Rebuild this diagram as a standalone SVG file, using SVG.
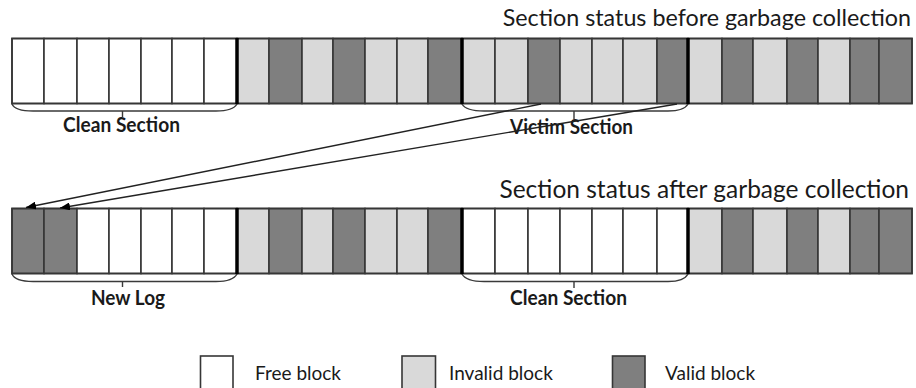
<svg xmlns="http://www.w3.org/2000/svg" width="916" height="388" viewBox="0 0 916 388">
  <defs>
    <style>
      .free { fill: #ffffff; stroke: #363636; stroke-width: 1.6; }
      .inv  { fill: #d9d9d9; stroke: #363636; stroke-width: 1.6; }
      .val  { fill: #7f7f7f; stroke: #363636; stroke-width: 1.6; }
      .sep  { stroke: #000000; stroke-width: 3.5; }
      .outline { fill: none; stroke: #363636; stroke-width: 1.6; }
      .brace { fill: none; stroke: #3a3a3a; stroke-width: 1.4; }
      .title { font-family: Lato, "Open Sans", sans-serif; font-size: 24.5px; fill: #1a1a1a; text-anchor: end; }
      .label { font-family: Lato, "Open Sans", sans-serif; font-size: 20px; font-weight: bold; fill: #1a1a1a; }
      .legend { font-family: Lato, "Open Sans", sans-serif; font-size: 19px; fill: #1a1a1a; }
      .move { fill: none; stroke: #222222; stroke-width: 1.4; marker-end: url(#head); }
    </style>
    <marker id="head" markerUnits="userSpaceOnUse" markerWidth="10" markerHeight="8" refX="10" refY="4" orient="auto">
      <path d="M0,0 L10,4 L0,8 Z" fill="#000000"/>
    </marker>
  </defs>

  <rect width="916" height="388" fill="#ffffff"/>

  <!-- Row 1: before garbage collection -->
  <text class="title" x="911" y="26" style="font-size:23.3px">Section status before garbage collection</text>

  <g id="before-clean">
    <rect class="free" x="12" y="38.5" width="32" height="65"/>
    <rect class="free" x="44" y="38.5" width="33" height="65"/>
    <rect class="free" x="77" y="38.5" width="32" height="65"/>
    <rect class="free" x="109" y="38.5" width="32" height="65"/>
    <rect class="free" x="141" y="38.5" width="31" height="65"/>
    <rect class="free" x="172" y="38.5" width="32" height="65"/>
    <rect class="free" x="204" y="38.5" width="33" height="65"/>
    <path class="brace" d="M12,104 Q15,111 33,111 H216 Q233,111 237,104 M122.5,111 V117"/>
    <text class="label" x="63" y="131.5" textLength="117" lengthAdjust="spacingAndGlyphs">Clean Section</text>
  </g>

  <g id="before-used">
    <rect class="inv" x="237" y="38.5" width="32" height="65"/>
    <rect class="val" x="269" y="38.5" width="33" height="65"/>
    <rect class="inv" x="302" y="38.5" width="31" height="65"/>
    <rect class="val" x="333" y="38.5" width="32" height="65"/>
    <rect class="inv" x="365" y="38.5" width="32" height="65"/>
    <rect class="inv" x="397" y="38.5" width="31" height="65"/>
    <rect class="val" x="428" y="38.5" width="34" height="65"/>
  </g>

  <g id="before-victim">
    <rect class="inv" x="462" y="38.5" width="33" height="65"/>
    <rect class="inv" x="495" y="38.5" width="33" height="65"/>
    <rect class="val" x="528" y="38.5" width="32" height="65"/>
    <rect class="inv" x="560" y="38.5" width="32" height="65"/>
    <rect class="inv" x="592" y="38.5" width="31" height="65"/>
    <rect class="inv" x="623" y="38.5" width="34" height="65"/>
    <rect class="val" x="657" y="38.5" width="31" height="65"/>
    <path class="brace" d="M462,104 Q466,111 484,111 H668 Q684,111 688,104 M574,111 V119"/>
    <text class="label" x="510" y="134" textLength="123" lengthAdjust="spacingAndGlyphs">Victim Section</text>
  </g>

  <g id="before-tail">
    <rect class="inv" x="688" y="38.5" width="34" height="65"/>
    <rect class="val" x="722" y="38.5" width="31" height="65"/>
    <rect class="inv" x="753" y="38.5" width="34" height="65"/>
    <rect class="val" x="787" y="38.5" width="31" height="65"/>
    <rect class="inv" x="818" y="38.5" width="32" height="65"/>
    <rect class="val" x="850" y="38.5" width="29" height="65"/>
    <rect class="val" x="879" y="38.5" width="33" height="65"/>
  </g>

  <g id="before-frame">
    <rect class="outline" x="12" y="38.5" width="900" height="65"/>
    <line class="sep" x1="237" y1="38" x2="237" y2="104"/>
    <line class="sep" x1="462" y1="38" x2="462" y2="104"/>
    <line class="sep" x1="688" y1="38" x2="688" y2="104"/>
  </g>

  <!-- Row 2: after garbage collection -->
  <text class="title" x="909" y="198">Section status after garbage collection</text>

  <g id="after-newlog">
    <rect class="val" x="12" y="208.5" width="32" height="65"/>
    <rect class="val" x="44" y="208.5" width="33" height="65"/>
    <rect class="free" x="77" y="208.5" width="32" height="65"/>
    <rect class="free" x="109" y="208.5" width="32" height="65"/>
    <rect class="free" x="141" y="208.5" width="31" height="65"/>
    <rect class="free" x="172" y="208.5" width="32" height="65"/>
    <rect class="free" x="204" y="208.5" width="33" height="65"/>
    <path class="brace" d="M12,274 Q15,281.5 33,281.5 H216 Q233,281.5 237,274 M122.5,281.5 V287"/>
    <text class="label" x="91" y="305" textLength="74" lengthAdjust="spacingAndGlyphs">New Log</text>
  </g>

  <g id="after-used">
    <rect class="inv" x="237" y="208.5" width="32" height="65"/>
    <rect class="val" x="269" y="208.5" width="33" height="65"/>
    <rect class="inv" x="302" y="208.5" width="31" height="65"/>
    <rect class="val" x="333" y="208.5" width="32" height="65"/>
    <rect class="inv" x="365" y="208.5" width="32" height="65"/>
    <rect class="inv" x="397" y="208.5" width="31" height="65"/>
    <rect class="val" x="428" y="208.5" width="34" height="65"/>
  </g>

  <g id="after-clean">
    <rect class="free" x="462" y="208.5" width="33" height="65"/>
    <rect class="free" x="495" y="208.5" width="33" height="65"/>
    <rect class="free" x="528" y="208.5" width="32" height="65"/>
    <rect class="free" x="560" y="208.5" width="32" height="65"/>
    <rect class="free" x="592" y="208.5" width="31" height="65"/>
    <rect class="free" x="623" y="208.5" width="34" height="65"/>
    <rect class="free" x="657" y="208.5" width="31" height="65"/>
    <path class="brace" d="M462,274 Q466,281.5 484,281.5 H668 Q684,281.5 688,274 M574,281.5 V288"/>
    <text class="label" x="510" y="305" textLength="117" lengthAdjust="spacingAndGlyphs">Clean Section</text>
  </g>

  <g id="after-tail">
    <rect class="inv" x="688" y="208.5" width="34" height="65"/>
    <rect class="val" x="722" y="208.5" width="31" height="65"/>
    <rect class="inv" x="753" y="208.5" width="34" height="65"/>
    <rect class="val" x="787" y="208.5" width="31" height="65"/>
    <rect class="inv" x="818" y="208.5" width="32" height="65"/>
    <rect class="val" x="850" y="208.5" width="29" height="65"/>
    <rect class="val" x="879" y="208.5" width="33" height="65"/>
  </g>

  <g id="after-frame">
    <rect class="outline" x="12" y="208.5" width="900" height="65"/>
    <line class="sep" x1="237" y1="208" x2="237" y2="274"/>
    <line class="sep" x1="462" y1="208" x2="462" y2="274"/>
    <line class="sep" x1="688" y1="208" x2="688" y2="274"/>
  </g>

  <!-- valid blocks copied from the victim section into the new log -->
  <g id="connectors">
    <path class="move" d="M541,104 L26,207.5"/>
    <path class="move" d="M677,104 L60,208"/>
  </g>

  <!-- Legend -->
  <g id="legend-free">
    <rect class="free" x="200.5" y="356" width="32.5" height="40"/>
    <text class="legend" x="255" y="380">Free block</text>
  </g>
  <g id="legend-invalid">
    <rect class="inv" x="402" y="356" width="33.5" height="40"/>
    <text class="legend" x="449" y="380">Invalid block</text>
  </g>
  <g id="legend-valid">
    <rect class="val" x="612.5" y="356" width="32.5" height="40"/>
    <text class="legend" x="665" y="380">Valid block</text>
  </g>
</svg>
